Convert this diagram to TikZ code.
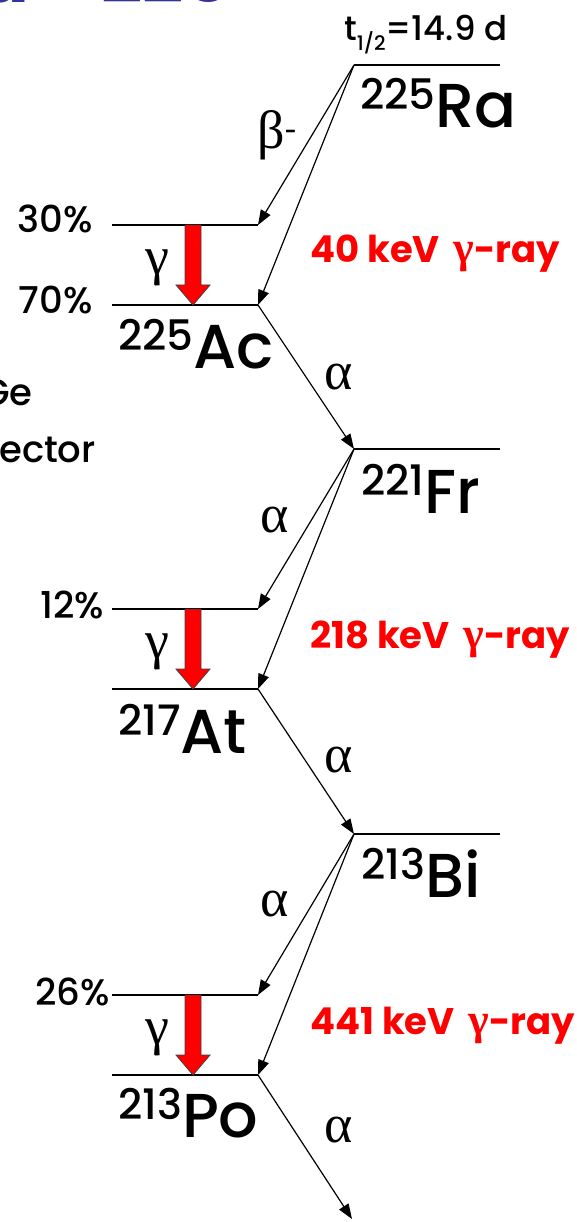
\documentclass[tikz,border=0pt]{standalone}
\usepackage{fontspec}
\setmainfont{Poppins}[UprightFont={* Medium}, BoldFont={* Bold}]
\newfontfamily\grk{Liberation Serif}
\usepackage{xcolor}
\usepackage{tikz}
\usetikzlibrary{
  arrows.meta,
  calc
}
\definecolor{titleblue}{RGB}{51,51,153}
\definecolor{gamred}{RGB}{255,0,0}
\newcommand{\fsz}[1]{\fontsize{#1}{#1}\selectfont}
\newcommand{\nuclide}[2]{\raisebox{18pt}{\fsz{42}#1}{\fsz{62}#2}}

\begin{document}
\begin{tikzpicture}[
  x=1pt, y=-1pt,
  >={Triangle[length=15pt,width=11pt]},
  % --- styles ---
  lvl/.style={line width=1.5pt},
  trans/.style={->, line width=1.2pt},
  nuc/.style={anchor=base west, inner sep=0pt},
  pct/.style={anchor=base east, inner sep=0pt, font=\fsz{37}},
  grklbl/.style={inner sep=0pt, font=\grk\fsz{54}},
  rayline/.style={anchor=base west, inner sep=0pt, text=gamred, font=\bfseries\fsz{37}},
  gam/.style={draw=black!75, fill=gamred, line width=0.8pt,
    to path={let \p1=(\tikztostart), \p2=(\tikztotarget) in
      (\x1-8pt,\y1) -- (\x1+8pt,\y1) -- (\x1+8pt,\y2+20pt) -- (\x1+17pt,\y2+20pt)
      -- (\x1,\y2) -- (\x1-17pt,\y2+20pt) -- (\x1-8pt,\y2+20pt) -- cycle}},
]
\useasboundingbox (0,0) rectangle (577,1222);
\clip (0,0) rectangle (577,1222);

% Title and detector text (cut by the frame)
\node[anchor=base east, inner sep=0pt, text=titleblue, font=\bfseries\fsz{72}] (ttl) at (231,3) {Ra - 225};
\node[anchor=base east, inner sep=0pt, font=\fsz{37}] (det1) at (33,405) {Ge};
\node[anchor=base east, inner sep=0pt, font=\fsz{37}] (det2) at (96,462) {ector};

% Level ends
\coordinate (ra-w) at (354,65);   \coordinate (ra-e) at (500,65);
\coordinate (ac1-w) at (112,225); \coordinate (ac1-e) at (258,225);
\coordinate (ac-w) at (112,305);  \coordinate (ac-e) at (258,305);
\coordinate (fr-w) at (354,449);  \coordinate (fr-e) at (500,449);
\coordinate (at1-w) at (112,609); \coordinate (at1-e) at (258,609);
\coordinate (at-w) at (112,689);  \coordinate (at-e) at (258,689);
\coordinate (bi-w) at (354,834);  \coordinate (bi-e) at (500,834);
\coordinate (po1-w) at (112,995); \coordinate (po1-e) at (258,995);
\coordinate (po-w) at (112,1075); \coordinate (po-e) at (258,1075);
\coordinate (po-out) at (352,1219);

% Levels
\foreach \lv in {ra,ac1,ac,fr,at1,at,bi,po1,po}
  \draw[lvl] (\lv-w) -- (\lv-e);

% Nuclide labels
\node[nuc] (ra) at ($(ra-w)+(6,63)$) {\nuclide{225}{Ra}};
\node[nuc] (ac) at ($(ac-w)+(6,63)$) {\nuclide{225}{Ac}};
\node[nuc] (fr) at ($(fr-w)+(7,64)$) {\nuclide{221}{Fr}};
\node[nuc] (at) at ($(at-w)+(6,64)$) {\nuclide{217}{At}};
\node[nuc] (bi) at ($(bi-w)+(7,63)$) {\nuclide{213}{Bi}};
\node[nuc] (po) at ($(po-w)+(6,62)$) {\nuclide{213}{Po}};

\node[anchor=base west, inner sep=0pt, font=\fsz{34}] (half) at (344,41)
  {t\raisebox{-10pt}{\fsz{20}1/2}=14.9 d};

% Branching
\node[pct] (p30) at ($(ac1-w)+(-19,8)$) {30\%};
\node[pct] (p70) at ($(ac-w)+(-19,8)$) {70\%};
\node[pct] (p12) at ($(at1-w)+(-8,9)$) {12\%};
\node[pct] (p26) at ($(po1-w)+(-2,10)$) {26\%};

% Decays
\draw[trans] (ra-w) -- (ac1-e);
\draw[trans] (ra-w) -- (ac-e);
\draw[trans] (ac-e) -- (fr-w);
\draw[trans] (fr-w) -- (at1-e);
\draw[trans] (fr-w) -- (at-e);
\draw[trans] (at-e) -- (bi-w);
\draw[trans] (bi-w) -- (po1-e);
\draw[trans] (bi-w) -- (po-e);
\draw[trans] (po-e) -- (po-out);

\node[grklbl] (beta) at ($(ra-w)+(-77,70)$) {β\textsuperscript{\fsz{34}-}};
\node[grklbl] (a1) at ($(ac-e)+(81,72)$) {α};
\node[grklbl] (a2) at ($(fr-w)+(-79,71)$) {α};
\node[grklbl] (a3) at ($(at-e)+(81,71)$) {α};
\node[grklbl] (a4) at ($(bi-w)+(-79,70)$) {α};
\node[grklbl] (a5) at ($(po-e)+(81,55)$) {α};

% Gamma transitions
\coordinate (g1a) at (193,225); \coordinate (g1b) at (193,305);
\coordinate (g2a) at (193,609); \coordinate (g2b) at (193,689);
\coordinate (g3a) at (193,995); \coordinate (g3b) at (193,1075);
\draw[gam] (g1a) to (g1b);
\draw[gam] (g2a) to (g2b);
\draw[gam] (g3a) to (g3b);
\node[grklbl] (y1) at ($(g1a)+(-36,43)$) {γ};
\node[grklbl] (y2) at ($(g2a)+(-36,43)$) {γ};
\node[grklbl] (y3) at ($(g3a)+(-36,43)$) {γ};

\node[rayline] (r1) at (310,263) {40 keV\, {\grk\fsz{44}γ}-ray};
\node[rayline] (r2) at (310,648) {218 keV\, {\grk\fsz{44}γ}-ray};
\node[rayline] (r3) at (310,1034) {441 keV\, {\grk\fsz{44}γ}-ray};

\end{tikzpicture}
\end{document}
